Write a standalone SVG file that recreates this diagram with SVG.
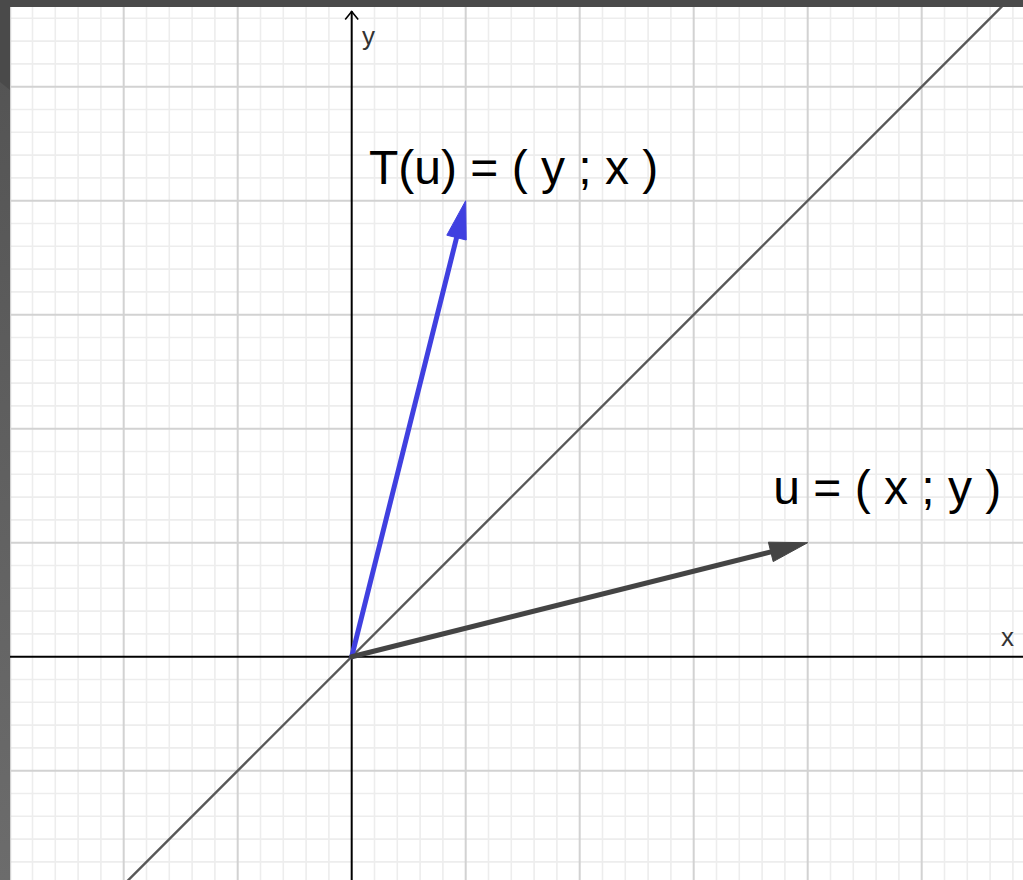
<svg xmlns="http://www.w3.org/2000/svg" width="1023" height="880" viewBox="0 0 1023 880">
  <defs>
    <style>
      .minor { stroke: #ededed; stroke-width: 1.6; fill: none; }
      .major { stroke: #d2d2d2; stroke-width: 2; fill: none; }
      .axis { stroke: #000; stroke-width: 2; fill: none; }
      .lbl { font-family: "Liberation Sans", Arial, sans-serif; fill: #000; }
      .axlbl { font-family: "Liberation Sans", Arial, sans-serif; fill: #333; font-size: 26px; }
    </style>
    <linearGradient id="side" x1="0" y1="0" x2="0" y2="1">
      <stop offset="0" stop-color="#525252"/>
      <stop offset="1" stop-color="#6c6c6c"/>
    </linearGradient>
  </defs>

  <rect x="0" y="0" width="1023" height="880" fill="#ffffff"/>

  <g id="grid">
    <path class="minor" d="M32.5 0V880M55.3 0V880M78.1 0V880M100.9 0V880M146.5 0V880M169.3 0V880M192.1 0V880M214.9 0V880M260.5 0V880M283.3 0V880M306.1 0V880M328.9 0V880M374.5 0V880M397.3 0V880M420.1 0V880M442.9 0V880M488.5 0V880M511.3 0V880M534.1 0V880M556.9 0V880M602.5 0V880M625.3 0V880M648.1 0V880M670.9 0V880M716.5 0V880M739.3 0V880M762.1 0V880M784.9 0V880M830.5 0V880M853.3 0V880M876.1 0V880M898.9 0V880M944.5 0V880M967.3 0V880M990.1 0V880M1012.9 0V880
      M0 18.3H1023M0 41.1H1023M0 63.9H1023M0 109.5H1023M0 132.3H1023M0 155.1H1023M0 177.9H1023M0 223.5H1023M0 246.3H1023M0 269.1H1023M0 291.9H1023M0 337.5H1023M0 360.3H1023M0 383.1H1023M0 405.9H1023M0 451.5H1023M0 474.3H1023M0 497.1H1023M0 519.9H1023M0 565.5H1023M0 588.3H1023M0 611.1H1023M0 633.9H1023M0 679.5H1023M0 702.3H1023M0 725.1H1023M0 747.9H1023M0 793.5H1023M0 816.3H1023M0 839.1H1023M0 861.9H1023"/>
    <path class="major" d="M10.2 0V880M123.7 0V880M237.7 0V880M465.7 0V880M579.7 0V880M693.7 0V880M807.7 0V880M921.7 0V880
      M0 86.7H1023M0 200.7H1023M0 314.7H1023M0 428.7H1023M0 542.7H1023M0 770.7H1023"/>
  </g>

  <g id="axes">
    <path class="axis" d="M10 656.7H1023"/>
    <path class="axis" d="M351.7 880V11"/>
    <path d="M345.2 19.5L351.7 11.5L358.2 19.5" fill="none" stroke="#000" stroke-width="1.6"/>
    <text class="axlbl" x="362" y="45">y</text>
    <text class="axlbl" x="1001" y="646">x</text>
  </g>

  <g id="connectors">
    <path id="diagonal" d="M1012 -3.6L118 890.4" stroke="#585858" stroke-width="2.4" fill="none"/>
    <g id="vector-Tu">
      <path d="M351.7 656.7L457 236" stroke="#4040e0" stroke-width="5" stroke-linecap="round" fill="none"/>
      <polygon points="465.7,200.7 466.2,240.0 446.8,235.2" fill="#4040e0" stroke="#4040e0" stroke-width="1" stroke-linejoin="round"/>
    </g>
    <g id="vector-u">
      <path d="M351.7 656.7L772 551.6" stroke="#444444" stroke-width="5" stroke-linecap="round" fill="none"/>
      <polygon points="807.7,542.7 773.2,561.6 768.4,542.2" fill="#444444" stroke="#444444" stroke-width="1" stroke-linejoin="round"/>
    </g>
  </g>

  <g id="label-Tu">
    <text class="lbl" x="369" y="184" font-size="48">T(u) = ( y ; x )</text>
  </g>
  <g id="label-u">
    <text class="lbl" x="773.3" y="504" font-size="48">u = ( x ; y )</text>
  </g>

  <g id="frame">
    <rect x="0" y="0" width="10" height="880" fill="url(#side)"/>
    <polygon points="0,0 10,0 10,90 0,82" fill="#4a4a4a"/>
    <rect x="0" y="0" width="1023" height="7" fill="#4a4a4a"/>
  </g>
</svg>
